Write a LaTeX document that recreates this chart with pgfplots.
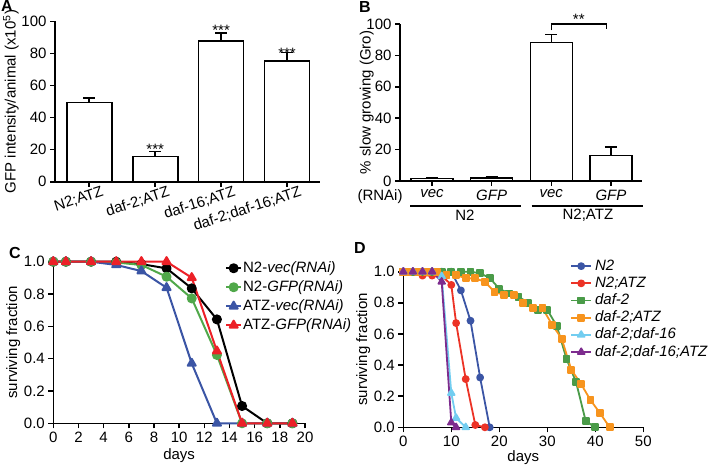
\documentclass[border=0pt]{standalone}
\usepackage{fontspec}
\setmainfont{Liberation Sans}
\usepackage{pgfplots}
\pgfplotsset{compat=1.18}
\definecolor{cgreen}{RGB}{80,168,74}
\definecolor{cblue}{RGB}{59,85,165}
\definecolor{cred}{RGB}{236,32,39}
\definecolor{dblue}{RGB}{59,85,165}
\definecolor{dred}{RGB}{236,51,38}
\definecolor{dgreen}{RGB}{74,155,72}
\definecolor{dorange}{RGB}{247,148,30}
\definecolor{dcyan}{RGB}{114,205,240}
\definecolor{dpurple}{RGB}{125,44,142}
\newcommand{\ff}{\fontsize{15}{18}\selectfont}
\begin{document}
\begin{tikzpicture}
\pgfplotsset{
  every axis/.append style={
    scale only axis, clip=false,
    axis x line*=bottom, axis y line*=left,
    axis line style={line width=1.6pt},
    every tick/.style={black, line width=1.6pt},
    major tick length=5pt, tick align=outside,
    font=\ff,
    /pgf/number format/assume math mode=true,
    anchor=south west,
    every axis y label/.style={rotate=90, anchor=center},
    every axis x label/.style={anchor=center},
  },
}
% ---------------- A ----------------
\begin{axis}[at={(55pt,-181.7pt)}, width=265pt, height=160.4pt,
  xmin=-0.52, xmax=3.5, ymin=0, ymax=100,
  ytick={0,20,40,60,80,100},
  xtick={0,1,2,3},
  xticklabels={N2;ATZ, daf-2;ATZ, daf-16;ATZ, daf-2;daf-16;ATZ},
  xticklabel style={rotate=18, anchor=north east, xshift=15pt, yshift=1pt},
  ylabel={GFP intensity/animal (x10\textsuperscript{5})},
  ylabel style={at={(rel axis cs:-0.166,0.5)}},
  ybar, bar width=45pt]
\addplot[fill=white, draw=black, line width=1.6pt,
  error bars/.cd, y dir=plus, y explicit,
  error bar style={line width=1.6pt},
  error mark options={rotate=90, mark size=6pt, line width=1.6pt}]
  coordinates {(0,49.3) +- (0,2.7) (1,15.7) +- (0,3.1) (2,87.8) +- (0,4.9) (3,75.3) +- (0,5.2)};
\node[anchor=base, font=\ff] at (axis cs:1,16.9) {***};
\node[anchor=base, font=\ff] at (axis cs:2,91.0) {***};
\node[anchor=base, font=\ff] at (axis cs:3,77.0) {***};
\end{axis}
% ---------------- B ----------------
\begin{axis}[at={(400pt,-181pt)}, width=242pt, height=157pt,
  xmin=-0.536, xmax=3.52, ymin=0, ymax=100,
  ytick={0,20,40,60,80,100},
  xtick={0,1,2,3},
  xticklabels={\textit{vec},\textit{GFP},\textit{vec},\textit{GFP}},
  ylabel={\% slow growing (Gro)},
  ylabel style={at={(rel axis cs:-0.1376,0.5)}},
  ybar, bar width=42pt]
\addplot[fill=white, draw=black, line width=1.6pt,
  error bars/.cd, y dir=plus, y explicit,
  error bar style={line width=1.6pt},
  error mark options={rotate=90, mark size=6pt, line width=1.6pt}]
  coordinates {(0,1.7) +- (0,0.5) (1,2.1) +- (0,0.6) (2,88.3) +- (0,4.9) (3,16.3) +- (0,5.5)};
\draw[line width=1.2pt] (axis cs:2,96) -- (axis cs:2,100) -- (axis cs:2.92,100) -- (axis cs:2.92,97);
\node[anchor=base, font=\ff] at (axis cs:2.46,99.5) {**};
\node[font=\ff] at ([yshift=-15.7pt]axis cs:-0.87,0) {(RNAi)};
\draw[line width=1.6pt] ([yshift=-24.7pt]axis cs:-0.368,0) -- ([yshift=-24.7pt]axis cs:1.486,0);
\draw[line width=1.6pt] ([yshift=-24.7pt]axis cs:1.67,0) -- ([yshift=-24.7pt]axis cs:3.53,0);
\node[font=\ff] at ([yshift=-34.7pt]axis cs:0.553,0) {N2};
\node[font=\ff] at ([yshift=-34.7pt]axis cs:2.613,0) {N2;ATZ};
\end{axis}
% ---------------- C ----------------
\begin{axis}[at={(53.3pt,-423.3pt)}, width=251.7pt, height=161.6pt,
  xmin=0, xmax=20, ymin=0, ymax=1,
  xtick={0,2,4,6,8,10,12,14,16,18,20},
  ytick={0,0.2,0.4,0.6,0.8,1},
  yticklabel style={/pgf/number format/.cd, fixed, fixed zerofill, precision=1},
  xlabel={days}, xlabel style={at={(rel axis cs:0.5,-0.2005)}},
  ylabel={surviving fraction}, ylabel style={at={(rel axis cs:-0.159,0.5)}},
  legend image code/.code={\draw[mark repeat=2,mark phase=2,#1] plot coordinates {(0pt,0pt) (7.5pt,0pt) (15pt,0pt)}; \path (16pt,0pt);},
  legend style={at={(rel axis cs:0.682,1.004)}, anchor=north west, draw=none, fill=none,
    inner sep=0pt, row sep=5pt, nodes={inner sep=0pt, text height=11pt, text depth=3pt}, font=\ff},
  legend cell align=left,
  every axis plot/.append style={line width=2pt, line join=round}]
\addplot[black, mark=*, mark size=4pt, mark options={solid}] coordinates {
  (0,1) (1,1) (3,1) (5,1) (7,0.985) (9,0.959) (11,0.835) (13,0.643) (15,0.107) (17,0) (19,0)};
\addlegendentry{N2-\textit{vec(RNAi)}}
\addplot[cgreen, mark=*, mark size=4pt, mark options={solid}] coordinates {
  (0,1) (1,1) (3,1) (5,0.995) (7,0.98) (9,0.907) (11,0.773) (13,0.423) (15,0) (17,0) (19,0)};
\addlegendentry{N2-\textit{GFP(RNAi)}}
\addplot[cblue, mark=triangle*, mark size=4.6pt, mark options={solid}] coordinates {
  (0,1) (1,1) (3,1) (5,0.98) (7,0.942) (9,0.839) (11,0.371) (13,0) (15,0) (17,0) (19,0)};
\addlegendentry{ATZ-\textit{vec(RNAi)}}
\addplot[cred, mark=triangle*, mark size=4.6pt, mark options={solid}] coordinates {
  (0,1) (1,1) (3,1) (5,1) (7,1) (9,1) (11,0.901) (13,0.447) (15,0) (17,0) (19,0)};
\addlegendentry{ATZ-\textit{GFP(RNAi)}}
\end{axis}
% ---------------- D ----------------
\begin{axis}[at={(403.3pt,-427.3pt)}, width=240pt, height=155.6pt,
  xmin=0, xmax=50, ymin=0, ymax=1,
  xtick={0,10,20,30,40,50},
  ytick={0,0.2,0.4,0.6,0.8,1},
  yticklabel style={/pgf/number format/.cd, fixed, fixed zerofill, precision=1},
  xlabel={days}, xlabel style={at={(rel axis cs:0.5,-0.193)}},
  ylabel={surviving fraction}, ylabel style={at={(rel axis cs:-0.1667,0.5)}},
  legend image code/.code={\draw[mark repeat=2,mark phase=2,#1] plot coordinates {(0pt,0pt) (10pt,0pt) (20pt,0pt)}; \path (23pt,0pt);},
  legend style={at={(rel axis cs:0.695,1.082)}, anchor=north west, draw=none, fill=none,
    inner sep=0pt, row sep=3.2pt, nodes={inner sep=0pt, text height=11pt, text depth=3pt}, font=\ff},
  legend cell align=left,
  every axis plot/.append style={line width=1.8pt, line join=round}]
\addplot[dblue, mark=*, mark size=3pt, mark options={solid}] coordinates {
  (0,1) (2,1) (4,1) (6,1) (8,1) (10,1) (12,0.88) (14,0.685) (16,0.32) (18,0)};
\addlegendentry{\textit{N2}}
\addplot[dred, mark=*, mark size=3pt, mark options={solid}] coordinates {
  (0,1) (2,1) (4,0.975) (6,0.975) (8,0.975) (10,0.915) (11,0.67) (13,0.31) (15,0.015) (17,0)};
\addlegendentry{\textit{N2;ATZ}}
\addplot[dgreen, mark=square*, mark size=3pt, mark options={solid}] coordinates {
  (0,1) (2,1) (4,1) (6,1) (8,1) (10,1) (12,1) (14,1) (16,0.99) (18,0.96) (20,0.89) (22,0.86)
  (24,0.84) (26,0.80) (28,0.755) (30,0.755) (32,0.65) (34,0.44) (36,0.29) (38,0.04) (40,0)};
\addlegendentry{\textit{daf-2}}
\addplot[dorange, mark=square*, mark size=3pt, mark options={solid}] coordinates {
  (0,1) (1,1) (3,1) (5,1) (7,1) (9,0.98) (11,0.98) (13,0.957) (15,0.957) (17,0.935) (19,0.87)
  (21,0.85) (23,0.85) (25,0.80) (27,0.765) (29,0.765) (31,0.66) (33,0.57) (35,0.37) (37,0.28)
  (39,0.175) (41,0.09) (43,0)};
\addlegendentry{\textit{daf-2;ATZ}}
\addplot[dcyan, mark=triangle*, mark size=3.8pt, mark options={solid}] coordinates {
  (0,1) (2,1) (4,1) (6,1) (8,0.97) (10,0.22) (11,0.06) (13,0)};
\addlegendentry{\textit{daf-2;daf-16}}
\addplot[dpurple, mark=triangle*, mark size=3.8pt, mark options={solid}] coordinates {
  (0,1) (2,1) (4,1) (6,1) (8,0.935) (10,0.03) (11,0)};
\addlegendentry{\textit{daf-2;daf-16;ATZ}}
\end{axis}
% panel letters
\node[font=\fontsize{16}{18}\selectfont\bfseries] at (7pt,-6pt) {A};
\node[font=\fontsize{16}{18}\selectfont\bfseries] at (365pt,-7pt) {B};
\node[font=\fontsize{16}{18}\selectfont\bfseries] at (15pt,-253pt) {C};
\node[font=\fontsize{16}{18}\selectfont\bfseries] at (360pt,-248pt) {D};
\pgfresetboundingbox
\path[use as bounding box] (0pt,0pt) rectangle (708pt,-466pt);
\end{tikzpicture}
\end{document}
